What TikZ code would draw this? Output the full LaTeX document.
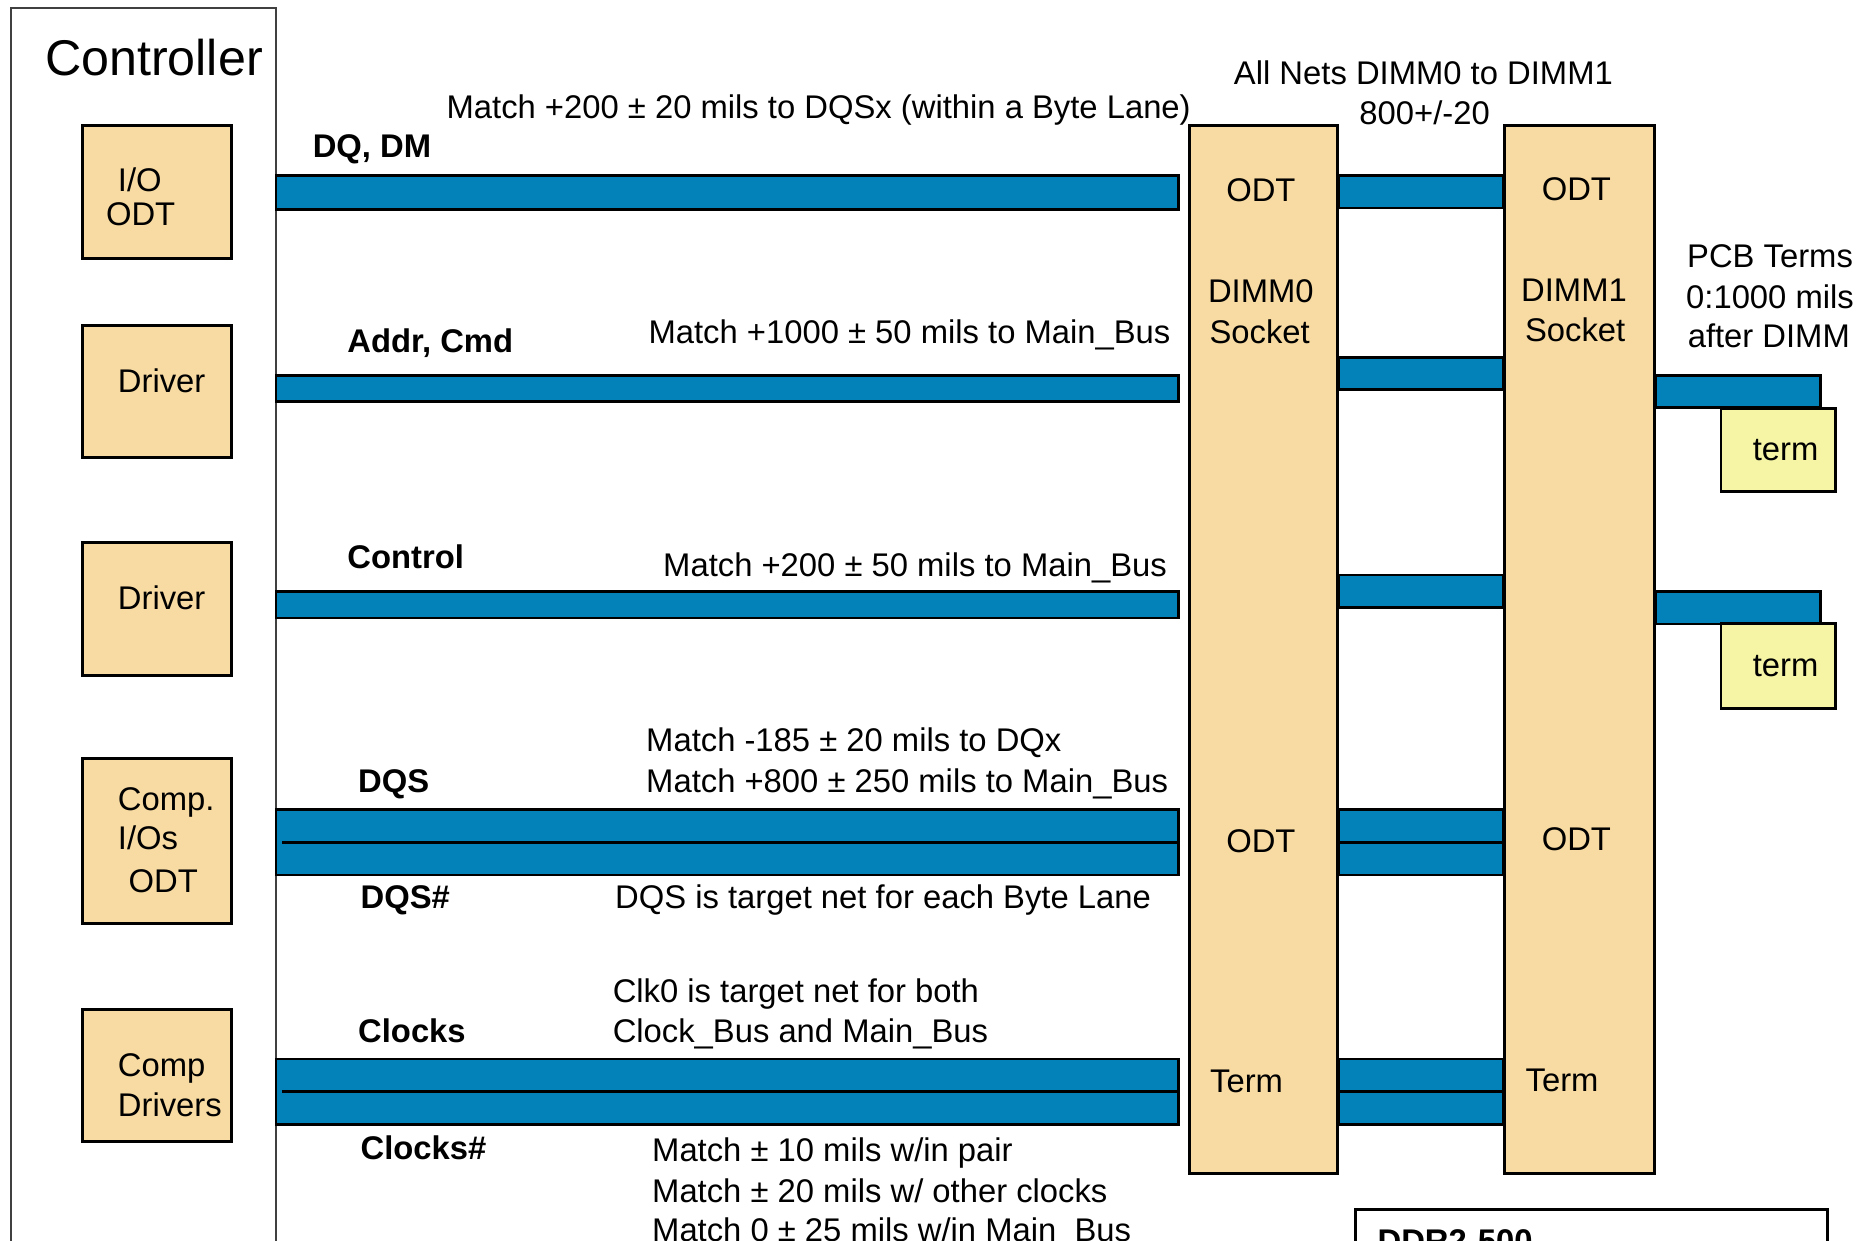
\documentclass[tikz,border=0pt]{standalone}
\usepackage{fontspec}
\setmainfont{Liberation Sans}
\usetikzlibrary{fit}
\definecolor{beige}{RGB}{248,219,162}
\definecolor{busblue}{RGB}{2,130,185}
\definecolor{termyel}{RGB}{245,245,165}
\begin{document}
\begin{tikzpicture}[x=0.01cm,y=-0.01cm,
  box/.style={draw=black,line width=0.7pt,fill=beige,inner sep=0pt},
  termbox/.style={draw=black,line width=0.7pt,fill=termyel,inner sep=0pt},
  bus/.style={fill=busblue,draw=black,line width=0.65pt},
  sep/.style={draw=black,line width=0.65pt},
  lbl/.style={font=\fontsize{7.8}{9.4}\selectfont,inner sep=0pt,anchor=base west},
  lblc/.style={lbl,anchor=base},
  lble/.style={lbl,anchor=base east},
  blbl/.style={lbl,font=\fontsize{7.8}{9.4}\selectfont\bfseries}]
\useasboundingbox (0,0) rectangle (1568,1038);
\clip (0,0) rectangle (1568,1038);
\fill[white] (0,0) rectangle (1568,1038);
% controller frame
\node[fit={(9,7) (231,1080)},draw=black!75,line width=0.45pt,inner sep=0pt] (ctrl) {};
\node[lbl,font=\fontsize{11.95}{14}\selectfont] (ctrltxt) at (37,63) {Controller};
% left boxes
\node[box,fit={(69,105) (194,216)}] (io) {};
\node[box,fit={(69,272) (194,383)}] (drv1) {};
\node[box,fit={(69,454) (194,565)}] (drv2) {};
\node[box,fit={(69,635) (194,773)}] (comp) {};
\node[box,fit={(69,845) (194,955)}] (compdrv) {};
\node[lbl] (t1) at (98,160) {I/O};
\node[lbl] (t2) at (88,189) {ODT};
\node[lbl] (t3) at (98,328) {Driver};
\node[lbl] (t4) at (98,510) {Driver};
\node[lbl] (t5) at (98,678) {Comp.};
\node[lbl] (t6) at (98,711) {I/Os};
\node[lbl] (t7) at (107,747) {ODT};
\node[lbl] (t8) at (98,901) {Comp};
\node[lbl] (t9) at (98,934) {Drivers};
% DIMMs
\node[box,fit={(995,105) (1119,982)}] (dimm0) {};
\node[box,fit={(1259,105) (1384,982)}] (dimm1) {};
\node[lblc] (d0a) at (1055,169) {ODT};
\node[lblc] (d0b) at (1055,253) {DIMM0};
\node[lblc] (d0c) at (1054,287) {Socket};
\node[lblc] (d0d) at (1055,713) {ODT};
\node[lblc] (d0e) at (1043,914) {Term};
\node[lblc] (d1a) at (1319,168) {ODT};
\node[lblc] (d1b) at (1317,252) {DIMM1};
\node[lblc] (d1c) at (1318,286) {Socket};
\node[lblc] (d1d) at (1319,712) {ODT};
\node[lblc] (d1e) at (1307,913) {Term};
% buses controller -> DIMM0
\filldraw[bus] (231,147) rectangle (986,175);
\filldraw[bus] (231,314) rectangle (986,336);
\filldraw[bus] (231,495) rectangle (986,517);
\filldraw[bus] (231,677) rectangle (986,732);
\draw[sep] (236,705) -- (986,705);
\filldraw[bus] (231,886) rectangle (986,941);
\draw[sep] (236,913) -- (986,913);
% buses DIMM0 -> DIMM1
\filldraw[bus] (dimm0.east |- 0,147) rectangle (dimm1.west |- 0,174);
\filldraw[bus] (dimm0.east |- 0,299) rectangle (dimm1.west |- 0,326);
\filldraw[bus] (dimm0.east |- 0,481) rectangle (dimm1.west |- 0,508);
\filldraw[bus] (dimm0.east |- 0,677) rectangle (dimm1.west |- 0,732);
\draw[sep] (dimm0.east |- 0,705) -- (dimm1.west |- 0,705);
\filldraw[bus] (dimm0.east |- 0,886) rectangle (dimm1.west |- 0,941);
\draw[sep] (dimm0.east |- 0,913) -- (dimm1.west |- 0,913);
% buses after DIMM1 with terms
\filldraw[bus] (dimm1.east |- 0,314) rectangle (1523,341);
\filldraw[bus] (dimm1.east |- 0,495) rectangle (1523,522);
\node[termbox,fit={(1440,342) (1536,411)}] (term1) {};
\node[termbox,fit={(1440,522) (1536,593)}] (term2) {};
\node[lblc] (tt1) at (1494,385) {term};
\node[lblc] (tt2) at (1494,566) {term};
% top texts
\node[lblc] (alln) at (1191,71) {All Nets DIMM0 to DIMM1};
\node[lblc] (alln2) at (1192,104) {800+/-20};
\node[lbl] (m1) at (373,99) {Match +200 ± 20 mils to DQSx (within a Byte Lane)};
\node[blbl] (n1) at (261,132) {DQ, DM};
\node[blbl] (n2) at (290,295) {Addr, Cmd};
\node[lble] (m2) at (980,287) {Match +1000 ± 50 mils to Main\_Bus};
\node[blbl] (n3) at (290,476) {Control};
\node[lble] (m3) at (977,482) {Match +200 ± 50 mils to Main\_Bus};
\node[lbl] (m4) at (540,629) {Match -185 ± 20 mils to DQx};
\node[lbl] (m5) at (540,663) {Match +800 ± 250 mils to Main\_Bus};
\node[blbl] (n4) at (299,663) {DQS};
\node[blbl] (n5) at (301,760) {DQS\#};
\node[lbl] (m6) at (514,760) {DQS is target net for each Byte Lane};
\node[blbl] (n6) at (299,872) {Clocks};
\node[lbl] (m7) at (512,839) {Clk0 is target net for both};
\node[lbl] (m8) at (512,872) {Clock\_Bus and Main\_Bus};
\node[blbl] (n7) at (301,970) {Clocks\#};
\node[lbl] (m9) at (545,972) {Match ± 10 mils w/in pair};
\node[lbl] (m10) at (545,1006) {Match ± 20 mils w/ other clocks};
\node[lbl] (m11) at (545,1039) {Match 0 ± 25 mils w/in Main\_Bus};
\node[lblc] (p1) at (1481,224) {PCB Terms};
\node[lblc] (p2) at (1481,258) {0:1000 mils};
\node[lblc] (p3) at (1480,291) {after DIMM};
% bottom right box
\node[fit={(1134,1012) (1529,1120)},draw=black,line width=0.6pt,inner sep=0pt] (ddr) {};
\node[blbl] (ddrt) at (1152,1048) {DDR2-500};
\end{tikzpicture}
\end{document}
